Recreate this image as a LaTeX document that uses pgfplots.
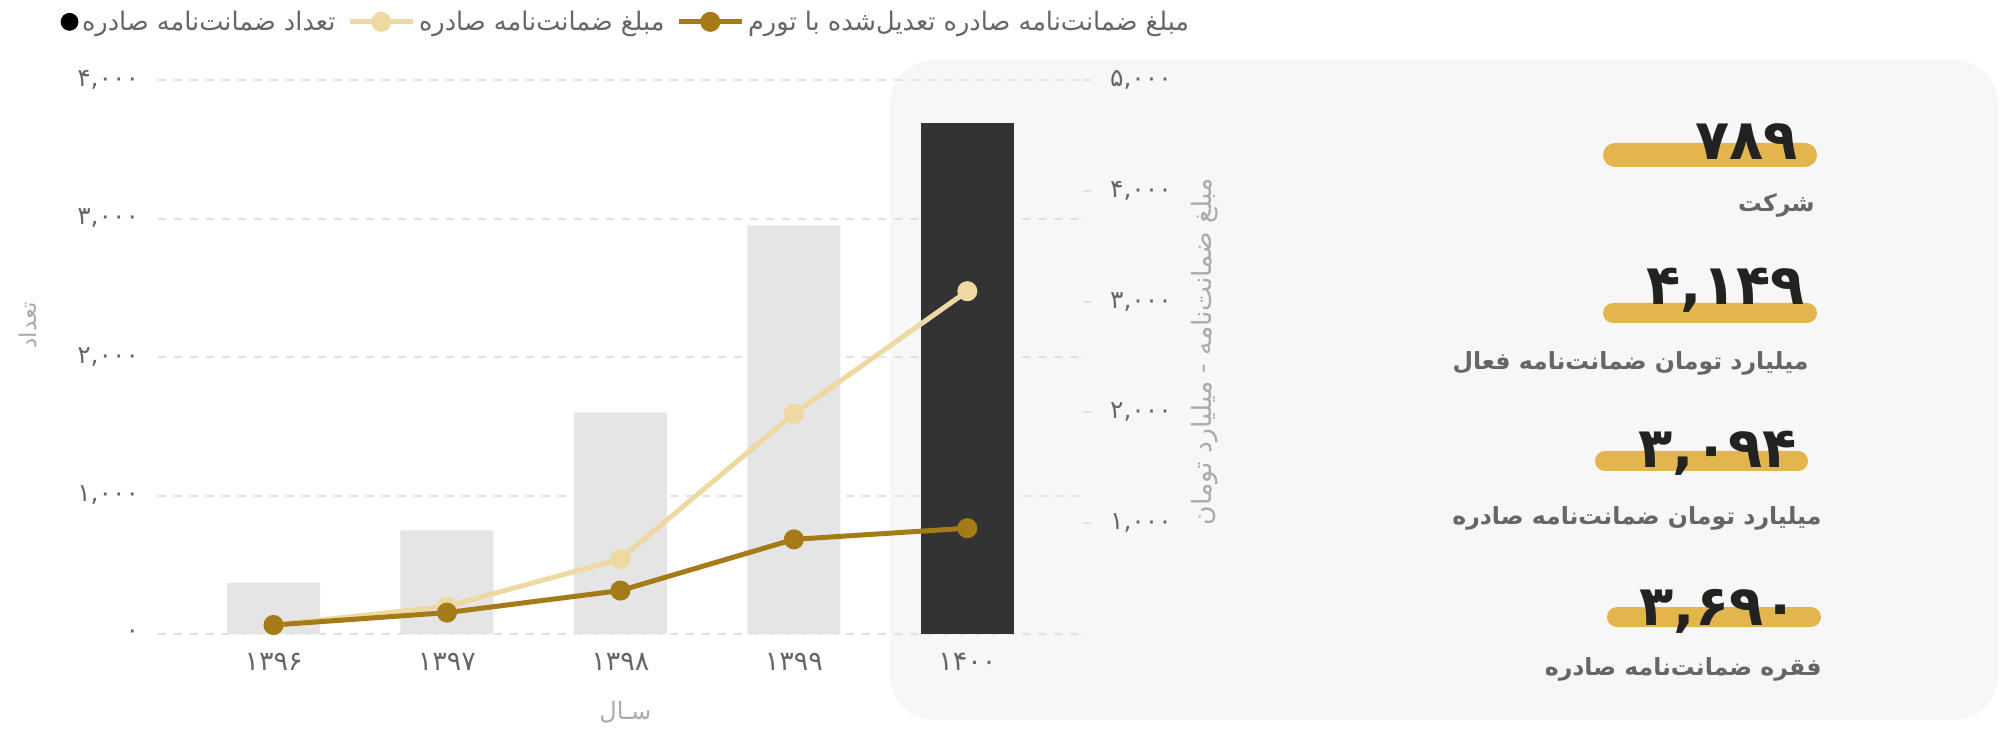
\documentclass[border=0pt]{standalone}
\usepackage{pgfplots}
\pgfplotsset{compat=1.18}
\usepackage{fontspec}
\setmainfont{DejaVu Sans}
\newfontfamily\fa[Script=Arabic]{DejaVu Sans}
\TeXXeTstate=1
\definecolor{panel}{HTML}{F7F7F7}
\definecolor{barg}{HTML}{E5E5E5}
\definecolor{bard}{HTML}{333333}
\definecolor{lgold}{HTML}{EFD9A3}
\definecolor{dgold}{HTML}{A57B18}
\definecolor{hl}{HTML}{E2B64C}
\definecolor{tickc}{HTML}{666666}
\definecolor{labc}{HTML}{ABABAB}
\definecolor{gridc}{HTML}{E3E3E3}
\definecolor{numc}{HTML}{222222}
\begin{document}
\begin{tikzpicture}[x=0.5pt,y=0.5pt]
\useasboundingbox (0,0) rectangle (2000,728);
\fill[panel, rounded corners=22pt] (890,8) rectangle (1998,668);
\begin{axis}[
  at={(79pt,47pt)}, anchor=south west,
  scale only axis, width=464.5pt, height=277pt,
  xmin=-0.666, xmax=4.69, ymin=0, ymax=4000,
  clip=false,
  axis line style={draw=none},
  major tick length=0pt,
  xtick pos=bottom, ytick pos=left,
  xtick={0,1,2,3,4},
  xticklabels={۱۳۹۶,۱۳۹۷,۱۳۹۸,۱۳۹۹,۱۴۰۰},
  ytick={0,1000,2000,3000,4000},
  yticklabels={۰,{۱,۰۰۰},{۲,۰۰۰},{۳,۰۰۰},{۴,۰۰۰}},
  ticklabel style={font=\fa\fontsize{12.5}{14}\selectfont, text=tickc},
  xticklabel style={font=\fa\fontsize{13.5}{15}\selectfont, yshift=-6pt},
  yticklabel style={xshift=-6pt},
  ymajorgrids,
  grid style={draw=gridc, line width=1pt, dash pattern=on 4pt off 4pt},
  ylabel={\beginR تعداد\endR},
  ylabel style={at={(axis description cs:-0.14,0.557)}, anchor=center, rotate=0, font=\fa\fontsize{11.5}{13}\selectfont, text=labc},
  xlabel={\beginR سـال\endR},
  xlabel style={at={(axis description cs:0.503,-0.141)}, anchor=center, font=\fa\fontsize{12}{14}\selectfont, text=labc},
]
\addplot[ybar, bar width=46.5pt, bar shift=0pt, fill=barg, draw=none] coordinates {(0,370) (1,749) (2,1600) (3,2950)};
\addplot[ybar, bar width=46.5pt, bar shift=0pt, fill=bard, draw=none] coordinates {(4,3690)};
\end{axis}
\begin{axis}[
  at={(79pt,47pt)}, anchor=south west,
  scale only axis, width=464.5pt, height=277pt,
  xmin=-0.666, xmax=4.69, ymin=0, ymax=5000,
  clip=false,
  hide x axis,
  axis y line*=right,
  axis line style={draw=none},
  ytick={1000,2000,3000,4000,5000},
  yticklabels={{۱,۰۰۰},{۲,۰۰۰},{۳,۰۰۰},{۴,۰۰۰},{۵,۰۰۰}},
  major tick length=4pt, tick align=center,
  ytick style={draw=gridc, line width=1pt},
  ticklabel style={font=\fa\fontsize{12.5}{14}\selectfont, text=tickc},
  yticklabel style={xshift=6pt},
  ylabel={\beginR مبلغ ضمانت‌نامه - میلیارد تومان\endR},
  ylabel style={at={(axis description cs:1.127,0.51)}, anchor=center, rotate=0, font=\fa\fontsize{13.3}{15}\selectfont, text=labc},
  legend style={at={(0.505,1.105)}, anchor=center, draw=none, fill=none,
    legend columns=3, font=\fa\fontsize{12.8}{15}\selectfont, text=tickc,
    /tikz/every even column/.append style={column sep=4pt}},
  legend image code/.code={\draw[mark repeat=2,mark phase=2] plot coordinates {(0cm,0cm) (0.55cm,0cm) (1.1cm,0cm)};},
]
\addlegendimage{black, mark=*, mark size=4.25pt, legend image code/.code={\draw plot coordinates {(0.16cm,0cm)};}}
\addlegendentry{\beginR تعداد ضمانت‌نامه صادره\endR}
\addplot[color=lgold, line width=2.5pt, mark=*, mark size=3.75pt, mark options={fill=lgold, draw=lgold}] coordinates {(0,81) (1,250) (2,677) (3,1988) (4,3094)};
\addlegendentry{\beginR مبلغ ضمانت‌نامه صادره\endR}
\addplot[color=dgold, line width=2.5pt, mark=*, mark size=3.75pt, mark options={fill=dgold, draw=dgold}] coordinates {(0,81) (1,193) (2,392) (3,854) (4,955)};
\addlegendentry{\beginR مبلغ ضمانت‌نامه صادره تعدیل‌شده با تورم\endR}
\end{axis}
% stats panel
\fill[hl, rounded corners=6pt] (1603,561) rectangle (1817,585);
\node[anchor=base east, inner sep=0pt, font=\fa\bfseries\fontsize{28}{30}\selectfont, text=numc] at (1798,568) {۷۸۹};
\node[anchor=east, inner sep=0pt, font=\fa\bfseries\fontsize{11.8}{14}\selectfont, text=tickc] at (1815,523) {\beginR شرکت\endR};
\fill[hl, rounded corners=5pt] (1603,405) rectangle (1817,425);
\node[anchor=base east, inner sep=0pt, font=\fa\bfseries\fontsize{28}{30}\selectfont, text=numc] at (1805,423) {۴,۱۴۹};
\node[anchor=east, inner sep=0pt, font=\fa\bfseries\fontsize{11.8}{14}\selectfont, text=tickc] at (1809,365) {\beginR میلیارد تومان ضمانت‌نامه فعال\endR};
\fill[hl, rounded corners=5pt] (1595,257) rectangle (1808,277);
\node[anchor=base east, inner sep=0pt, font=\fa\bfseries\fontsize{28}{30}\selectfont, text=numc] at (1797,260) {۳,۰۹۴};
\node[anchor=east, inner sep=0pt, font=\fa\bfseries\fontsize{11.8}{14}\selectfont, text=tickc] at (1822,210) {\beginR میلیارد تومان ضمانت‌نامه صادره\endR};
\fill[hl, rounded corners=5pt] (1607,101) rectangle (1821,121);
\node[anchor=base east, inner sep=0pt, font=\fa\bfseries\fontsize{28}{30}\selectfont, text=numc] at (1798,103) {۳,۶۹۰};
\node[anchor=east, inner sep=0pt, font=\fa\bfseries\fontsize{11.8}{14}\selectfont, text=tickc] at (1822,59) {\beginR فقره ضمانت‌نامه صادره\endR};
\end{tikzpicture}
\end{document}
